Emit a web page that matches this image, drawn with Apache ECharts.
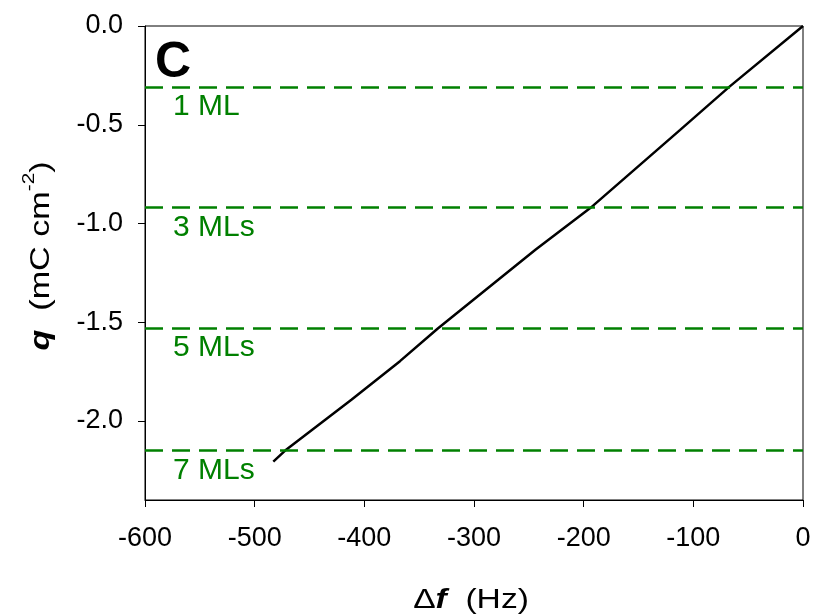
<!DOCTYPE html>
<html>
<head>
<meta charset="utf-8">
<script src="https://cdn.jsdelivr.net/npm/echarts@6/dist/echarts.min.js"></script>
<style>
  html, body { margin: 0; padding: 0; background: #fff; }
  #chart { width: 814px; height: 615px; }
</style>
</head>
<body>
<div id="chart"></div>
<script>
// Frequency shift (Hz) vs. charge density (mC cm^-2)
var deltaF = [-483, -471, -411.5, -367.5, -333, -244, -194, -112, -67, 0];
var charge = [-2.206, -2.144, -1.891, -1.697, -1.532, -1.133, -0.922, -0.526, -0.307, 0];

// Monolayer reference levels
var mlNames = ['1 ML', '3 MLs', '5 MLs', '7 MLs'];
var mlLevels = [-0.307, -0.920, -1.532, -2.145];

// Axis ticks
var xTicks = [-600, -500, -400, -300, -200, -100, 0];
var yTicks = [0, -0.5, -1.0, -1.5, -2.0];

var FONT = '"Liberation Sans", Arial, sans-serif';
var GREEN = '#008000';

var chart = echarts.init(document.getElementById('chart'), null, { renderer: 'canvas' });

var lineData = deltaF.map(function (x, i) { return [x, charge[i]]; });
var mlData = mlLevels.map(function (v, i) {
  return { yAxis: v, label: { formatter: mlNames[i] } };
});

chart.setOption({
  animation: false,
  backgroundColor: '#fff',
  grid: {
    left: 145, top: 26, right: 11, bottom: 115,
    show: true, borderColor: '#000', borderWidth: 1, backgroundColor: 'transparent'
  },
  xAxis: {
    type: 'value',
    min: xTicks[0], max: xTicks[xTicks.length - 1], interval: 100,
    axisLine: { show: true, onZero: false, lineStyle: { color: '#000', width: 1 } },
    axisTick: { show: true, inside: false, length: 7, lineStyle: { color: '#000' } },
    axisLabel: { margin: 25, fontFamily: FONT, fontSize: 27, color: '#000' },
    splitLine: { show: false }
  },
  yAxis: {
    type: 'value',
    min: -2.4, max: 0,
    axisLine: { show: true, onZero: false, lineStyle: { color: '#000', width: 1 } },
    axisTick: { show: true, inside: false, length: 7, customValues: yTicks, lineStyle: { color: '#000' } },
    axisLabel: {
      margin: 22, fontFamily: FONT, fontSize: 27, color: '#000',
      customValues: yTicks,
      formatter: function (v) { return v.toFixed(1); }
    },
    splitLine: { show: false }
  },
  series: [
    {
      type: 'line',
      data: lineData,
      showSymbol: false,
      smooth: false,
      lineStyle: { color: '#000', width: 2.5 },
      z: 3,
      markLine: {
        silent: true,
        symbol: ['none', 'none'],
        animation: false,
        lineStyle: { color: GREEN, width: 2.5, type: [18, 9] },
        label: {
          show: true,
          position: 'insideStartBottom',
          distance: [28, 5],
          fontFamily: FONT, fontSize: 30, color: GREEN
        },
        data: mlData
      }
    }
  ],
  graphic: [
    {
      type: 'text', x: 155, y: 38, z: 10,
      style: { text: 'C', fontFamily: FONT, fontSize: 50, fontWeight: 'bold', fill: '#000' }
    },
    {
      type: 'text', x: 471, y: 600, scaleX: 1.2, z: 10,
      style: {
        text: '{n|Δ}{bi|f}{n|  (Hz)}',
        align: 'center', verticalAlign: 'middle',
        fontFamily: FONT, fontSize: 28, fill: '#000',
        rich: {
          n: { fontFamily: FONT, fontSize: 28, fill: '#000' },
          bi: { fontFamily: FONT, fontSize: 28, fontWeight: 'bold', fontStyle: 'italic', fill: '#000' }
        }
      }
    },
    {
      type: 'text', x: 38, y: 256, rotation: Math.PI / 2, scaleX: 1.22, z: 10,
      style: {
        text: '{bi|q}{n|  (mC cm}{sup|-2}{n|)}',
        align: 'center', verticalAlign: 'middle',
        fontFamily: FONT, fontSize: 28, fill: '#000',
        rich: {
          n: { fontFamily: FONT, fontSize: 28, fill: '#000', lineHeight: 34, verticalAlign: 'bottom' },
          bi: { fontFamily: FONT, fontSize: 28, fontWeight: 'bold', fontStyle: 'italic', fill: '#000', lineHeight: 34, verticalAlign: 'bottom' },
          sup: { fontFamily: FONT, fontSize: 17, fill: '#000', lineHeight: 34, verticalAlign: 'top' }
        }
      }
    }
  ]
});
</script>
</body>
</html>
